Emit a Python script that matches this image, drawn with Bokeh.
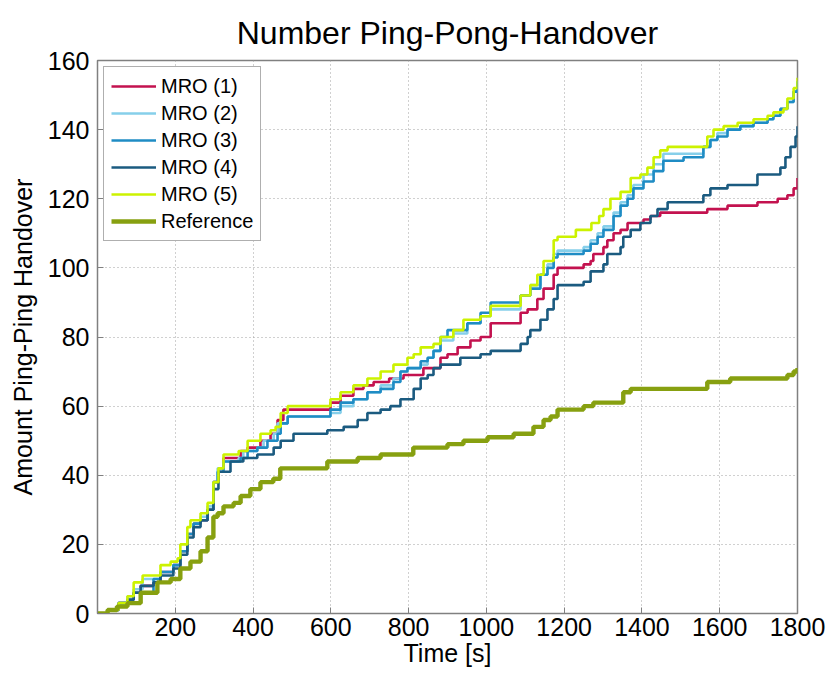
from bokeh.plotting import figure
from bokeh.models import Range1d, FixedTicker, Legend, LegendItem
from bokeh.embed import file_html
from bokeh.resources import INLINE

title_text = "Number Ping-Pong-Handover"
x_label = "Time [s]"
y_label = "Amount Ping-Ping Handover"
x_ticks = [200, 400, 600, 800, 1000, 1200, 1400, 1600, 1800]
y_ticks = [0, 20, 40, 60, 80, 100, 120, 140, 160]
series_names = ["MRO (1)", "MRO (2)", "MRO (3)", "MRO (4)", "MRO (5)", "Reference"]

mro1_t = [0, 26, 54, 77, 93, 111, 144, 162, 195, 213, 231, 247, 265, 283, 298, 311, 324, 368, 386, 419,
          445, 463, 478, 599, 625, 658, 684, 710, 750, 787, 838, 882, 900, 926, 959, 985, 1011, 1088, 1106, 1131,
          1147, 1173, 1183, 1250, 1268, 1275, 1301, 1311, 1327, 1345, 1363, 1404, 1422, 1447, 1568, 1620, 1697, 1749, 1774, 1790,
          1800]
mro1_v = [0, 1, 3, 4, 6, 8, 9, 12, 14, 18, 23, 26, 27, 30, 38, 42, 45, 47, 48, 50,
          52, 56, 59, 61, 63, 65, 66, 67, 68, 69, 71, 74, 75, 77, 79, 80, 84, 87, 88, 91,
          94, 98, 100, 101, 102, 104, 106, 108, 110, 111, 113, 114, 115, 116, 117, 118, 119, 120, 121, 123,
          126]

mro2_t = [0, 26, 54, 77, 93, 116, 162, 195, 213, 231, 247, 265, 283, 298, 309, 324, 363, 375, 411, 427,
          453, 463, 489, 599, 625, 658, 694, 728, 761, 779, 797, 831, 849, 864, 882, 915, 951, 985, 1011, 1088,
          1113, 1139, 1157, 1173, 1183, 1250, 1268, 1286, 1301, 1327, 1345, 1363, 1378, 1404, 1430, 1455, 1558, 1576, 1594, 1620,
          1653, 1687, 1723, 1738, 1756, 1774, 1790, 1800]
mro2_v = [0, 1, 3, 5, 7, 10, 12, 14, 18, 23, 26, 28, 31, 38, 42, 44, 45, 47, 48, 50,
          52, 55, 57, 58, 60, 62, 64, 66, 68, 70, 71, 72, 74, 76, 79, 81, 84, 86, 88, 92,
          95, 98, 101, 104, 105, 106, 108, 110, 112, 116, 119, 121, 124, 127, 130, 133, 135, 137, 139, 140,
          141, 142, 143, 144, 146, 148, 151, 154]

mro3_t = [0, 26, 54, 77, 93, 144, 162, 195, 213, 231, 247, 265, 283, 298, 309, 324, 368, 386, 411, 437,
          463, 471, 489, 599, 625, 658, 694, 728, 761, 779, 797, 831, 849, 864, 882, 900, 951, 985, 1011, 1088,
          1113, 1139, 1157, 1173, 1183, 1250, 1268, 1286, 1301, 1327, 1345, 1363, 1378, 1404, 1430, 1455, 1507, 1558, 1576, 1594,
          1620, 1653, 1687, 1723, 1738, 1756, 1774, 1790, 1800]
mro3_v = [0, 1, 3, 4, 6, 10, 12, 14, 18, 23, 26, 27, 30, 38, 41, 44, 45, 47, 48, 50,
          52, 55, 57, 59, 61, 62, 64, 65, 67, 70, 71, 73, 74, 76, 80, 82, 84, 87, 90, 92,
          94, 98, 100, 103, 104, 105, 107, 109, 111, 115, 118, 120, 123, 125, 128, 131, 132, 135, 137, 138,
          140, 141, 142, 143, 144, 146, 148, 151, 154]

mro4_t = [0, 26, 54, 77, 93, 111, 144, 162, 195, 213, 231, 247, 265, 283, 298, 311, 342, 375, 411, 453,
          471, 504, 591, 633, 669, 694, 728, 753, 779, 813, 831, 849, 864, 882, 933, 985, 1011, 1088, 1106, 1113,
          1139, 1157, 1173, 1183, 1250, 1268, 1301, 1311, 1345, 1352, 1371, 1396, 1422, 1440, 1466, 1558, 1576, 1620, 1697, 1756,
          1769, 1782, 1795, 1800]
mro4_v = [0, 1, 3, 4, 6, 8, 9, 11, 13, 17, 22, 25, 27, 30, 36, 41, 44, 45, 46, 48,
          50, 52, 53, 54, 56, 58, 59, 60, 62, 65, 68, 69, 71, 72, 74, 75, 76, 78, 80, 82,
          85, 88, 91, 95, 96, 99, 101, 104, 106, 109, 111, 113, 115, 117, 119, 121, 123, 124, 127, 129,
          132, 135, 138, 141]

mro5_t = [0, 26, 54, 77, 93, 116, 162, 188, 206, 213, 231, 239, 265, 283, 298, 311, 324, 363, 386, 419,
          445, 458, 471, 489, 599, 625, 658, 694, 728, 761, 797, 813, 831, 864, 882, 915, 941, 985, 1011, 1088,
          1113, 1131, 1147, 1173, 1183, 1230, 1270, 1290, 1301, 1319, 1345, 1371, 1396, 1414, 1430, 1447, 1466, 1568, 1584, 1610,
          1646, 1687, 1723, 1738, 1764, 1774, 1790, 1800]
mro5_v = [0, 1, 3, 5, 9, 11, 14, 15, 16, 20, 25, 27, 29, 32, 38, 42, 46, 47, 50, 52,
          53, 54, 58, 60, 62, 64, 66, 68, 70, 72, 74, 75, 77, 78, 80, 82, 85, 86, 89, 92,
          95, 98, 102, 108, 109, 111, 113, 115, 117, 120, 122, 126, 127, 129, 132, 134, 135, 138, 140, 141,
          142, 143, 144, 145, 146, 149, 152, 155]

ref_t = [0, 26, 50, 77, 111, 154, 188, 213, 239, 265, 283, 298, 309, 324, 350, 368, 393, 419, 452, 470,
         591, 669, 728, 812, 900, 941, 1003, 1070, 1121, 1147, 1165, 1183, 1250, 1275, 1352, 1371, 1568, 1627, 1774, 1790,
         1800]
ref_v = [0, 1, 2, 3, 6, 9, 10, 13, 15, 18, 22, 28, 29, 31, 32, 34, 36, 38, 39, 42,
         44, 45, 46, 48, 49, 50, 51, 52, 54, 56, 57, 59, 60, 61, 64, 65, 67, 68, 69, 70,
         71]

colors = ["#c3124f", "#86cfea", "#1f8cc4", "#1b5b80", "#ccf200", "#87a010"]
widths = [2.6, 2.6, 2.6, 2.6, 2.6, 4.4]
FONT = "Liberation Sans"

p = figure(width=829, height=675, output_backend="svg", toolbar_location=None,
           x_range=Range1d(0, 1800), y_range=Range1d(0, 160), title=title_text)
p.min_border_left = 97
p.min_border_right = 32
p.min_border_top = 60
p.min_border_bottom = 62
p.background_fill_color = "white"
p.border_fill_color = "white"
p.outline_line_color = "#808080"
p.outline_line_width = 1.5

p.title.align = "center"
p.title.text_font = FONT
p.title.text_font_size = "32px"
p.title.text_font_style = "normal"
p.title.text_color = "black"
p.title.standoff = 20

for ax in (p.xaxis[0], p.yaxis[0]):
    ax.major_label_text_font = FONT
    ax.major_label_text_font_size = "25px"
    ax.major_label_text_color = "black"
    ax.axis_label_text_font = FONT
    ax.axis_label_text_font_size = "25px"
    ax.axis_label_text_font_style = "normal"
    ax.axis_label_text_color = "black"
    ax.major_tick_in = 6
    ax.major_tick_out = 0
    ax.minor_tick_line_color = None
    ax.axis_line_color = "#808080"
    ax.major_tick_line_color = "#808080"

p.xaxis.ticker = FixedTicker(ticks=x_ticks)
p.yaxis.ticker = FixedTicker(ticks=y_ticks)
p.xaxis.axis_label = x_label
p.yaxis.axis_label = y_label
p.xaxis.major_label_standoff = 4
p.yaxis.major_label_standoff = 8
p.xaxis.axis_label_standoff = 0
p.yaxis.axis_label_standoff = 8

p.xgrid.ticker = FixedTicker(ticks=x_ticks)
p.ygrid.ticker = FixedTicker(ticks=y_ticks)
for g in (p.xgrid[0], p.ygrid[0]):
    g.grid_line_color = "#a0a0a0"
    g.grid_line_dash = "1 3"
    g.grid_line_width = 1

ts = [mro1_t, mro2_t, mro3_t, mro4_t, mro5_t, ref_t]
vs = [mro1_v, mro2_v, mro3_v, mro4_v, mro5_v, ref_v]
items = []
for name, t, v, c, w in zip(series_names, ts, vs, colors, widths):
    r = p.step(t, v, mode="after", line_color=c, line_width=w)
    items.append(LegendItem(label=name, renderers=[r]))

legend = Legend(items=items, location="top_left")
legend.label_text_font = FONT
legend.label_text_font_size = "20px"
legend.label_text_color = "black"
legend.glyph_width = 45
legend.glyph_height = 24
legend.label_height = 24
legend.spacing = 3
legend.padding = 7
legend.margin = 6
legend.label_standoff = 5
legend.border_line_color = "#606060"
legend.border_line_width = 1
legend.background_fill_color = "white"
legend.background_fill_alpha = 1
p.add_layout(legend)

open("out.html", "w").write(file_html(p, INLINE))
